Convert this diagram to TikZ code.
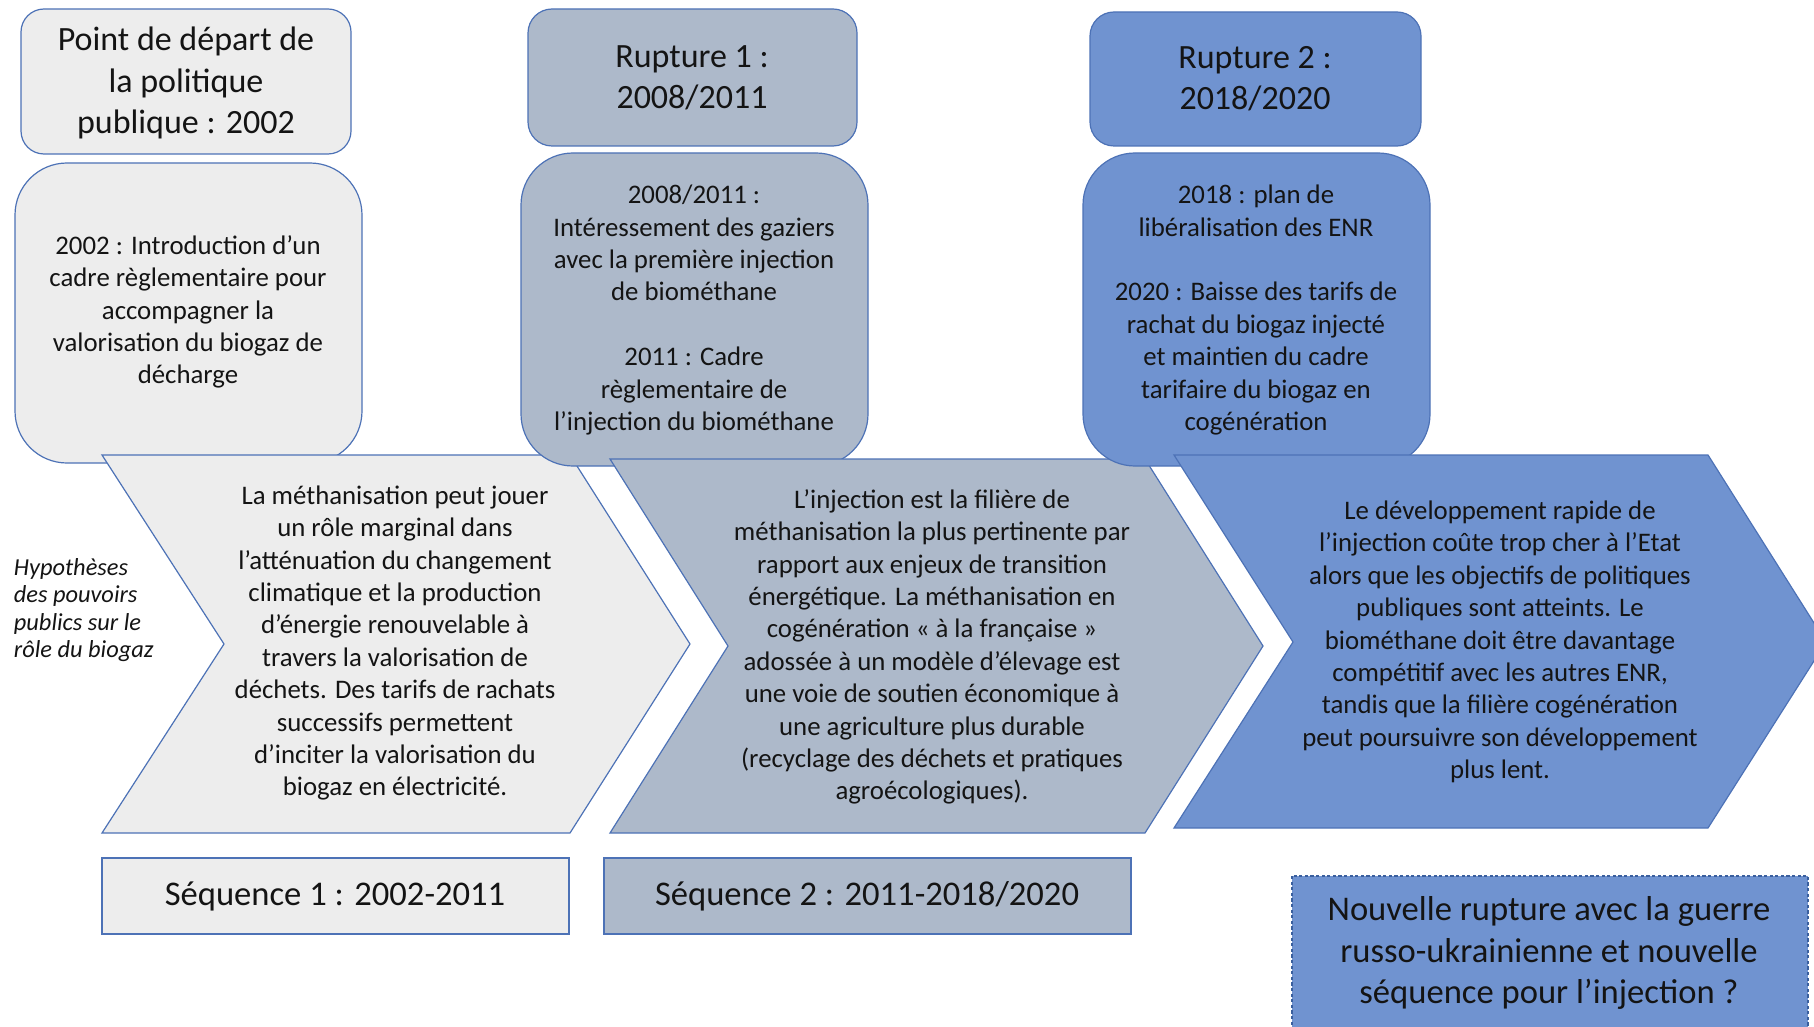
\documentclass[tikz,border=0pt]{standalone}
\usepackage{fontspec}
\setmainfont{Carlito}
\usepackage{tikz}

\definecolor{greyfill}{HTML}{EDEDED}
\definecolor{slatefill}{HTML}{ADB9CA}
\definecolor{bluefill}{HTML}{7093D0}
\definecolor{edgeblue}{HTML}{4D72B6}
\definecolor{dashblue}{HTML}{3A5F9E}
\definecolor{inkblack}{HTML}{141414}

\tikzset{
  shapeedge/.style={draw=edgeblue, line width=0.6pt},
  bodytext/.style={align=center, text=inkblack, inner sep=0.75pt, font=\fontsize{13.4}{16.2}\selectfont},
  headtext/.style={align=center, text=inkblack, inner sep=0.75pt, font=\fontsize{17}{20.6}\selectfont},
  seqtext/.style={align=center, text=inkblack, inner sep=0.75pt, font=\fontsize{17.3}{20.8}\selectfont},
}

\begin{document}
\begin{tikzpicture}[x=0.5pt,y=0.5pt,yscale=-1,xscale=1]
\path[use as bounding box, clip] (0,0) rectangle (1814,1027);

%Shape: Rounded Rect -- depart
\draw [shapeedge, fill=greyfill, rounded corners=11.5pt] (21,9) rectangle (351,154);
%Shape: Rounded Rect -- 2002
\draw [shapeedge, fill=greyfill, rounded corners=26pt] (15,163) rectangle (362,463);
%Shape: Chevron -- sequence 1
\draw [shapeedge, fill=greyfill] (102,455) -- (570,455) -- (690,644) -- (570,833) -- (102,833) -- (224,644) -- cycle;

%Shape: Rounded Rect -- rupture 1
\draw [shapeedge, fill=slatefill, rounded corners=12pt] (528,9) rectangle (857,146);
%Shape: Rounded Rect -- 2008/2011
\draw [shapeedge, fill=slatefill, rounded corners=26pt] (521,153) rectangle (868,466);
%Shape: Chevron -- sequence 2
\draw [shapeedge, fill=slatefill] (610,459) -- (1145,459) -- (1263,646) -- (1145,833) -- (610,833) -- (728,646) -- cycle;

%Shape: Rounded Rect -- rupture 2
\draw [shapeedge, fill=bluefill, rounded corners=12pt] (1090,12) rectangle (1421,146);
%Shape: Rounded Rect -- 2018/2020
\draw [shapeedge, fill=bluefill, rounded corners=26pt] (1083,153) rectangle (1430,466);
%Shape: Chevron -- sequence 3
\draw [shapeedge, fill=bluefill] (1174,455) -- (1708,455) -- (1826,642) -- (1708,828) -- (1174,828) -- (1293,642) -- cycle;

%Shape: Rectangle -- sequences
\draw [shapeedge, fill=greyfill] (102,858) rectangle (569,934);
\draw [shapeedge, fill=slatefill] (604,858) rectangle (1131,934);
%Shape: Rectangle -- nouvelle rupture
\draw [draw=dashblue, line width=0.6pt, dash pattern=on 1.6pt off 1.2pt, fill=bluefill] (1292,876) rectangle (1808,1040);

% Text Node
\node [headtext] (depart) at (186,83) {Point de départ de\\la politique\\publique : 2002};
% Text Node
\node [headtext] (rupture1) at (692,78) {Rupture 1 :\\2008/2011};
% Text Node
\node [headtext] (rupture2) at (1255,79) {Rupture 2 :\\2018/2020};

% Text Node
\node [bodytext] (cadre2002) at (188,312) {2002 : Introduction d’un\\cadre règlementaire pour\\accompagner la\\valorisation du biogaz de\\décharge};
% Text Node
\node [bodytext] (cadre2011) at (694,310) {2008/2011 :\\Intéressement des gaziers\\avec la première injection\\de biométhane\\[16.2pt]2011 : Cadre\\règlementaire de\\l’injection du biométhane};
% Text Node
\node [bodytext] (plan2018) at (1256,310) {2018 : plan de\\libéralisation des ENR\\[16.2pt]2020 : Baisse des tarifs de\\rachat du biogaz injecté\\et maintien du cadre\\tarifaire du biogaz en\\cogénération};

% Text Node
\node [bodytext] (hypo1) at (395,643) {La méthanisation peut jouer\\un rôle marginal dans\\l’atténuation du changement\\climatique et la production\\d’énergie renouvelable à\\travers la valorisation de\\déchets. Des tarifs de rachats\\successifs permettent\\d’inciter la valorisation du\\biogaz en électricité.};
% Text Node
\node [bodytext] (hypo2) at (932,647) {L’injection est la filière de\\méthanisation la plus pertinente par\\rapport aux enjeux de transition\\énergétique. La méthanisation en\\cogénération « à la française »\\adossée à un modèle d’élevage est\\une voie de soutien économique à\\une agriculture plus durable\\(recyclage des déchets et pratiques\\agroécologiques).};
% Text Node
\node [bodytext] (hypo3) at (1500,642) {Le développement rapide de\\l’injection coûte trop cher à l’Etat\\alors que les objectifs de politiques\\publiques sont atteints. Le\\biométhane doit être davantage\\compétitif avec les autres ENR,\\tandis que la filière cogénération\\peut poursuivre son développement\\plus lent.};

% Text Node
\node [align=left, anchor=west, text=inkblack, inner sep=0.75pt, font=\fontsize{12.2}{13.7}\selectfont\itshape] (hypolabel) at (12,610) {Hypothèses\\des pouvoirs\\publics sur le\\rôle du biogaz};

% Text Node
\node [seqtext] (seq1) at (335,896) {Séquence 1 : 2002-2011};
% Text Node
\node [seqtext] (seq2) at (867,896) {Séquence 2 : 2011-2018/2020};
% Text Node
\node [seqtext] (nouvelle) at (1549,953) {Nouvelle rupture avec la guerre\\russo-ukrainienne et nouvelle\\séquence pour l’injection ?};

\end{tikzpicture}
\end{document}
